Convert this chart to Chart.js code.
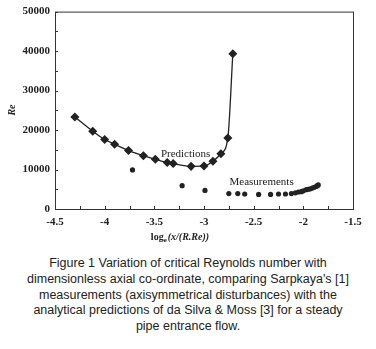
<!DOCTYPE html>
<html><head><meta charset="utf-8">
<script src="https://cdn.jsdelivr.net/npm/chart.js@4.4.1/dist/chart.umd.min.js"></script>
<style>
html,body{margin:0;padding:0;background:#fff;width:376px;height:349px;overflow:hidden;}
#wrap{position:absolute;left:0;top:0;width:376px;height:245px;}
#cap{position:absolute;left:0;top:256px;width:376px;text-align:center;font-family:"Liberation Sans",sans-serif;font-size:12.5px;line-height:15.8px;color:#222;}
</style></head><body>
<div id="wrap"><canvas id="c" width="376" height="245"></canvas></div>
<div id="cap">Figure 1 Variation of critical Reynolds number with<br>dimensionless axial co-ordinate, comparing Sarpkaya's [1]<br>measurements (axisymmetrical disturbances) with the<br>analytical predictions of da Silva &amp; Moss [3] for a steady<br>pipe entrance flow.</div>
<script>
const predX = [-4.30, -4.12, -4.00, -3.90, -3.76, -3.61, -3.49, -3.37, -3.31, -3.13, -3.00, -2.91, -2.83, -2.76, -2.71];
const predY = [23300, 19700, 17600, 16400, 14800, 13500, 12600, 11800, 11500, 10800, 10900, 12100, 14000, 18000, 39300];
const measX = [-3.72, -3.22, -2.99, -2.75, -2.66, -2.59, -2.45, -2.33, -2.25, -2.18, -2.12, -2.08, -2.05, -2.02, -2.00, -1.97, -1.95, -1.93, -1.91, -1.89, -1.87, -1.86, -1.85];
const measY = [9900, 5900, 4700, 3900, 3900, 3800, 3700, 3700, 3800, 3800, 3900, 4100, 4300, 4400, 4600, 4900, 5000, 5100, 5300, 5500, 5700, 5900, 6100];
const xTicks = [-4.5, -4, -3.5, -3, -2.5, -2, -1.5];
const yTicks = [0, 10000, 20000, 30000, 40000, 50000];
const seriesNames = ['Predictions', 'Measurements'];
const labelPos = [[-3.185, 13900], [-2.42, 6800]];

const serif = '"Liberation Serif", "DejaVu Serif", serif';

const deco = {
  id: 'deco',
  afterDraw(chart) {
    const {ctx, chartArea: a, scales: {x, y}} = chart;
    ctx.save();
    ctx.strokeStyle = '#333';
    ctx.lineWidth = 1;
    ctx.strokeRect(a.left + 0.5, a.top + 0.5, a.right - a.left, a.bottom - a.top);
    // inward minor ticks
    ctx.beginPath();
    for (let v = -4.5; v <= -1.5 + 1e-9; v += 0.25) {
      const px = Math.round(x.getPixelForValue(v)) + 0.5;
      ctx.moveTo(px, a.bottom); ctx.lineTo(px, a.bottom - 3);
    }
    for (let v = 0; v <= 50000; v += 5000) {
      const py = Math.round(y.getPixelForValue(v)) + 0.5;
      ctx.moveTo(a.left, py); ctx.lineTo(a.left + 3, py);
    }
    ctx.stroke();
    // series labels
    ctx.fillStyle = '#222';
    ctx.font = '11px ' + serif;
    ctx.textAlign = 'center'; ctx.textBaseline = 'middle';
    seriesNames.forEach((n, i) => {
      ctx.fillText(n, x.getPixelForValue(labelPos[i][0]), y.getPixelForValue(labelPos[i][1]));
    });
    // y title
    ctx.save();
    ctx.translate(12, 110);
    ctx.rotate(-Math.PI / 2);
    ctx.font = 'italic bold 10px ' + serif;
    ctx.fillText('Re', 0, 0);
    ctx.restore();
    // x title with subscript
    const cx = 180, cy = 237;
    const p1 = 'log', p2 = 'e', p3 = '(x/(R.Re))';
    ctx.textAlign = 'left';
    const f1 = 'bold 10px ' + serif, f2 = 'bold 7px ' + serif, f3 = 'italic bold 10px ' + serif;
    ctx.font = f1; const w1 = ctx.measureText(p1).width;
    ctx.font = f2; const w2 = ctx.measureText(p2).width;
    ctx.font = f3; const w3 = ctx.measureText(p3).width;
    let sx = cx - (w1 + w2 + w3 + 1) / 2;
    ctx.font = f1; ctx.fillText(p1, sx, cy); sx += w1;
    ctx.font = f2; ctx.fillText(p2, sx, cy + 3); sx += w2 + 1;
    ctx.font = f3; ctx.fillText(p3, sx, cy);
    ctx.restore();
  }
};

new Chart(document.getElementById('c'), {
  type: 'scatter',
  data: {
    datasets: [
      {
        label: seriesNames[0],
        data: predX.map((v, i) => ({x: v, y: predY[i]})),
        showLine: true,
        borderColor: '#222',
        backgroundColor: '#222',
        borderWidth: 1.3,
        pointStyle: 'rectRot',
        pointRadius: 3.6,
        cubicInterpolationMode: 'monotone'
      },
      {
        label: seriesNames[1],
        data: measX.map((v, i) => ({x: v, y: measY[i]})),
        showLine: false,
        borderColor: '#222',
        backgroundColor: '#222',
        pointStyle: 'circle',
        pointRadius: 2.6,
        borderWidth: 0
      }
    ]
  },
  options: {
    responsive: false,
    animation: false,
    layout: {padding: {left: 0, right: 23, top: 8, bottom: 0}},
    plugins: {legend: {display: false}, tooltip: {enabled: false}},
    scales: {
      x: {
        type: 'linear', min: -4.5, max: -1.5,
        afterBuildTicks: s => { s.ticks = xTicks.map(v => ({value: v})); },
        afterFit: s => { s.height = 36; },
        grid: {display: false, drawTicks: false},
        border: {display: false},
        ticks: {padding: 7, color: '#222', font: {family: serif, size: 11, weight: 'bold'}, callback: v => String(v)}
      },
      y: {
        type: 'linear', min: 0, max: 50000,
        afterBuildTicks: s => { s.ticks = yTicks.map(v => ({value: v})); },
        afterFit: s => { s.width = 55; },
        grid: {display: false, drawTicks: false},
        border: {display: false},
        ticks: {padding: 5, color: '#222', font: {family: serif, size: 11, weight: 'bold'}, callback: v => String(v)}
      }
    }
  },
  plugins: [deco]
});
</script>
</body></html>
